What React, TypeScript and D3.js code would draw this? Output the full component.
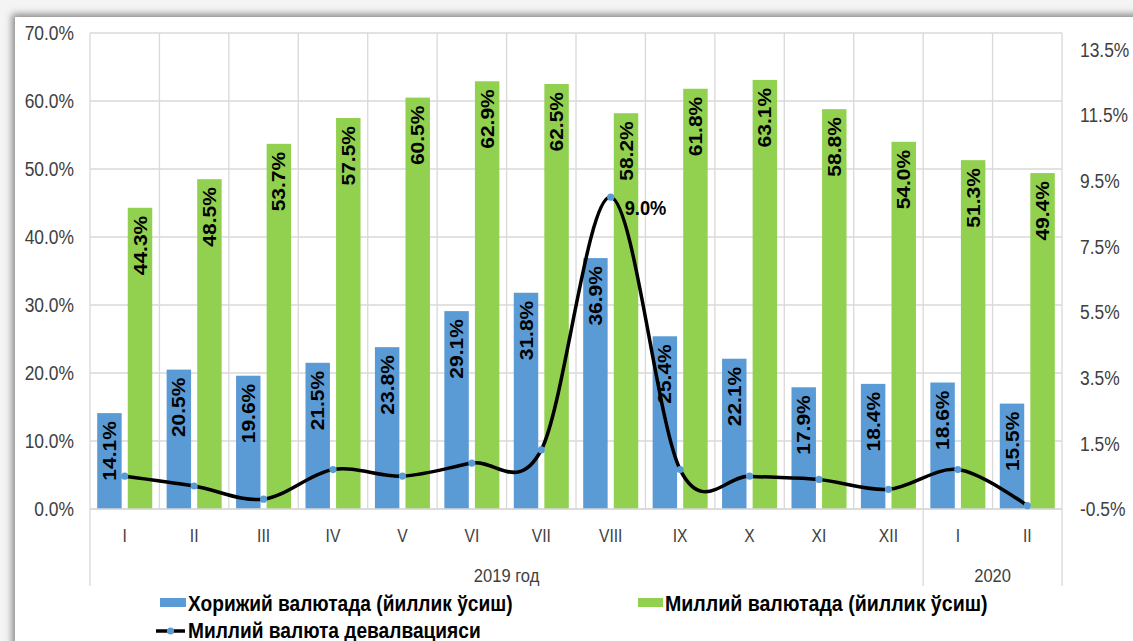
import React from 'react';
import * as d3 from 'd3';

const categories = ['I', 'II', 'III', 'IV', 'V', 'VI', 'VII', 'VIII', 'IX', 'X', 'XI', 'XII', 'I', 'II'];
const groupLabels = ['2019 год', '2020'];
const groupStarts = [0, 12];
const groupEnds = [12, 14];
const foreignGrowth = [14.1, 20.5, 19.6, 21.5, 23.8, 29.1, 31.8, 36.9, 25.4, 22.1, 17.9, 18.4, 18.6, 15.5];
const nationalGrowth = [44.3, 48.5, 53.7, 57.5, 60.5, 62.9, 62.5, 58.2, 61.8, 63.1, 58.8, 54.0, 51.3, 49.4];
const devaluation = [0.5, 0.2, -0.2, 0.7, 0.5, 0.9, 1.3, 9.0, 0.7, 0.5, 0.4, 0.1, 0.7, -0.4];
const labeledDevaluation = [7];
const leftTicks = [0, 10, 20, 30, 40, 50, 60, 70];
const rightTicks = [-0.5, 1.5, 3.5, 5.5, 7.5, 9.5, 11.5, 13.5];
const seriesNames = ['Хорижий валютада (йиллик ўсиш)', 'Миллий валютада (йиллик ўсиш)', 'Миллий валюта девалвацияси'];

const W = 1133;
const H = 641;
const PL = 90, PR = 1062, PT = 33, PB = 509;
const SX = 0.87;
const FONT = "'Liberation Sans', Arial, sans-serif";
const BLUE = '#5B9BD5';
const GREEN = '#92D050';
const GRID = '#d9d9d9';
const AXIS_TEXT = '#404040';

function T(props: any) {
  const { x, y, rot, children, ...rest } = props;
  return (
    <text
      transform={`translate(${x},${y}) scale(${SX},1)${rot ? ' rotate(-90)' : ''}`}
      fontFamily={FONT}
      {...rest}
    >
      {children}
    </text>
  );
}

export default function App() {
  const x = d3.scaleBand<number>().domain(d3.range(categories.length)).range([PL, PR]).paddingInner(0).paddingOuter(0);
  const bw = x.bandwidth();
  const x1 = d3.scaleBand<string>().domain(['f', 'n']).range([7.2, bw - 7.2]).paddingInner(0.2);
  const yL = d3.scaleLinear().domain([0, 70]).range([PB, PT]);
  const yR = d3.scaleLinear().domain([-0.5, 14]).range([PB, PT]);
  const cx = (i: number) => (x(i) as number) + bw / 2;

  const line = d3
    .line<number>()
    .x((_, i) => cx(i))
    .y((d) => yR(d))
    .curve(d3.curveCardinal.tension(0));

  const vLines = d3.range(categories.length + 1).map((i) => PL + i * bw);

  return (
    <svg width={W} height={H} style={{ position: 'absolute', left: 0, top: 0 }}>
      <defs>
        <filter id="sh" x="-5%" y="-5%" width="110%" height="110%">
          <feDropShadow dx="-3" dy="-3" stdDeviation="3.5" floodColor="#6f6f6f" floodOpacity="0.8" />
        </filter>
      </defs>
      <rect x={0} y={0} width={W} height={H} fill="#f4f4f4" />
      <rect x={15} y={17} width={W + 40} height={H + 40} fill="#ffffff" filter="url(#sh)" />

      {/* horizontal gridlines */}
      {leftTicks.map((t) => (
        <line key={'g' + t} x1={PL} x2={PR} y1={yL(t)} y2={yL(t)} stroke={GRID} strokeWidth={1.3} />
      ))}
      {/* vertical gridlines */}
      {vLines.map((vx, i) => (
        <line key={'v' + i} x1={vx} x2={vx} y1={PT} y2={PB} stroke={GRID} strokeWidth={1.3} />
      ))}
      {/* category axis group separators below axis */}
      {[PL, PL + groupEnds[0] * bw, PR].map((vx, i) => (
        <line key={'s' + i} x1={vx} x2={vx} y1={PB} y2={586} stroke={GRID} strokeWidth={1.3} />
      ))}

      {/* bars */}
      {foreignGrowth.map((v, i) => (
        <rect key={'bf' + i} x={(x(i) as number) + (x1('f') as number)} y={yL(v)} width={x1.bandwidth()} height={yL(0) - yL(v)} fill={BLUE} />
      ))}
      {nationalGrowth.map((v, i) => (
        <rect key={'bn' + i} x={(x(i) as number) + (x1('n') as number)} y={yL(v)} width={x1.bandwidth()} height={yL(0) - yL(v)} fill={GREEN} />
      ))}
      <line x1={PL} x2={PR} y1={PB} y2={PB} stroke={GRID} strokeWidth={1.5} />

      {/* bar labels */}
      {foreignGrowth.map((v, i) => (
        <T key={'lf' + i} x={(x(i) as number) + (x1('f') as number) + x1.bandwidth() / 2} y={yL(v) + 8} rot dy="0.36em" textAnchor="end" fontSize={21} fontWeight="bold" fill="#000">
          {v.toFixed(1) + '%'}
        </T>
      ))}
      {nationalGrowth.map((v, i) => (
        <T key={'ln' + i} x={(x(i) as number) + (x1('n') as number) + x1.bandwidth() / 2} y={yL(v) + 8} rot dy="0.36em" textAnchor="end" fontSize={21} fontWeight="bold" fill="#000">
          {v.toFixed(1) + '%'}
        </T>
      ))}

      {/* line */}
      <path d={line(devaluation) as string} fill="none" stroke="#000" strokeWidth={3.5} strokeLinejoin="round" />
      {devaluation.map((v, i) => (
        <circle key={'m' + i} cx={cx(i)} cy={yR(v)} r={3.6} fill={BLUE} />
      ))}
      {labeledDevaluation.map((i) => (
        <T key={'dl' + i} x={cx(i) + 14} y={yR(devaluation[i]) + 10} dy="0.36em" fontSize={21} fontWeight="bold" fill="#000">
          {devaluation[i].toFixed(1) + '%'}
        </T>
      ))}

      {/* left axis */}
      {leftTicks.map((t) => (
        <T key={'lt' + t} x={74} y={yL(t)} dy="0.36em" textAnchor="end" fontSize={20} fill={AXIS_TEXT}>
          {t.toFixed(1) + '%'}
        </T>
      ))}
      {/* right axis */}
      {rightTicks.map((t) => (
        <T key={'rt' + t} x={1080} y={yR(t)} dy="0.36em" textAnchor="start" fontSize={20} fill={AXIS_TEXT}>
          {t.toFixed(1) + '%'}
        </T>
      ))}

      {/* category labels */}
      {categories.map((c, i) => (
        <T key={'c' + i} x={cx(i)} y={542} textAnchor="middle" fontSize={18} fill={AXIS_TEXT}>
          {c}
        </T>
      ))}
      {groupLabels.map((g, k) => (
        <T key={'gl' + k} x={(PL + groupStarts[k] * bw + PL + groupEnds[k] * bw) / 2} y={582} textAnchor="middle" fontSize={19} fill={AXIS_TEXT}>
          {g}
        </T>
      ))}

      {/* legend */}
      <rect x={160} y={598} width={26} height={9} fill={BLUE} />
      <T x={188} y={611} fontSize={22} fontWeight="bold" fill="#000">{seriesNames[0]}</T>
      <rect x={638} y={598} width={25} height={9} fill={GREEN} />
      <T x={665} y={611} fontSize={22.5} fontWeight="bold" fill="#000">{seriesNames[1]}</T>
      <line x1={156} x2={185} y1={631} y2={631} stroke="#000" strokeWidth={3.5} />
      <circle cx={170.5} cy={631} r={3.6} fill={BLUE} />
      <T x={188} y={638} fontSize={22} fontWeight="bold" fill="#000">{seriesNames[2]}</T>
    </svg>
  );
}
